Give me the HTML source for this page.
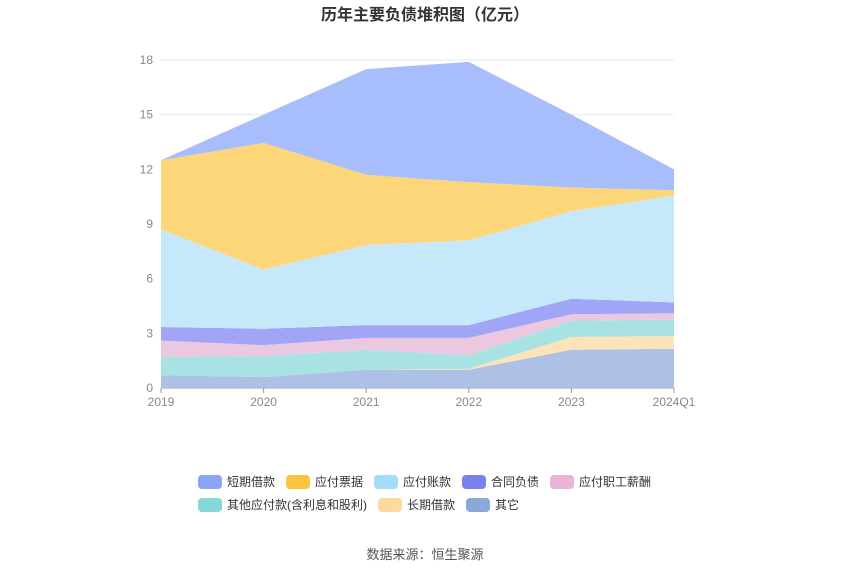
<!DOCTYPE html>
<html><head><meta charset="utf-8"><style>
body{margin:0;background:#fff;font-family:"Liberation Sans","Noto Sans CJK SC",sans-serif}
svg text{font-family:"Liberation Sans","Noto Sans CJK SC",sans-serif}
</style></head><body>
<svg id="c" width="850" height="575">
<text x="425" y="20" text-anchor="middle" font-size="16" font-weight="bold" fill="#333">历年主要负债堆积图（亿元）</text>
<g id="grid"></g><g id="areas"></g><g id="axes"></g><g id="legend"></g>
<text x="425" y="559" text-anchor="middle" font-size="13" fill="#555">数据来源：恒生聚源</text>
</svg>
<script>
const categories=["2019","2020","2021","2022","2023","2024Q1"];
const seriesNames=["其它","长期借款","其他应付款(含利息和股利)","应付职工薪酬","合同负债","应付账款","应付票据","短期借款"];
const s_other=[0.7,0.6,1.0,1.0,2.1,2.15];
const s_longLoan=[0,0,0,0.05,0.7,0.7];
const s_otherPay=[1.0,1.15,1.1,0.75,0.9,0.9];
const s_salary=[0.9,0.6,0.65,0.95,0.35,0.35];
const s_contract=[0.75,0.9,0.7,0.7,0.85,0.6];
const s_accounts=[5.35,3.25,4.4,4.65,4.8,5.85];
const s_notes=[3.8,6.95,3.85,3.2,1.3,0.3];
const s_shortLoan=[0,1.55,5.8,6.6,4.0,1.15];
const yTicks=[0,3,6,9,12,15,18];
const series=[s_other,s_longLoan,s_otherPay,s_salary,s_contract,s_accounts,s_notes,s_shortLoan];
const fills=["#adc1e6","#fde3b8","#a9e2e2","#ecc8e0","#a0a5f5","#c5e9fb","#fdd67a","#a8bdfc"];
const legendColors=["#8aa9da","#fdd9a0","#84d8d8","#e8b4d8","#7b7ff0","#a3ddf9","#fcc342","#8aa4f8"];
const NS="http://www.w3.org/2000/svg";
const x0=161,x1=674,yB=388,yT=60;
const xs=i=>x0+(x1-x0)*i/(categories.length-1);
const ys=v=>yB-(yB-yT)*v/18;
function mk(t,a,p){const e=document.createElementNS(NS,t);for(const k in a)e.setAttribute(k,a[k]);p.appendChild(e);return e;}
const grid=document.getElementById('grid'),axes=document.getElementById('axes'),areas=document.getElementById('areas'),leg=document.getElementById('legend');
yTicks.forEach(v=>{
 const l=mk('line',{x1:x0,x2:x1,y1:ys(v),y2:ys(v),stroke:v===0?'#999':'#e6e9f0'},grid);
 
 
 const t=mk('text',{x:x0-8,y:ys(v)+4,'text-anchor':'end','font-size':12,fill:'#888'},axes);t.textContent=v;
 
 
});
categories.forEach((c,i)=>{
 const t=mk('text',{x:xs(i),y:406,'text-anchor':'middle','font-size':12,fill:'#888'},axes);t.textContent=c;
 
 
 mk('line',{x1:xs(i),x2:xs(i),y1:yB,y2:yB+5,stroke:'#999'},axes);
});
let base=categories.map(()=>0);
series.forEach((s,k)=>{
 const top=base.map((b,i)=>b+s[i]);
 let d='M'+top.map((v,i)=>xs(i)+','+ys(v)).join('L');
 for(let i=categories.length-1;i>=0;i--)d+='L'+xs(i)+','+ys(base[i]);
 const p=mk('path',{d:d+'Z',fill:fills[k]},areas);
 
 
 base=top;
});
const legItems=[[7,198,482],[6,286,482],[5,374,482],[4,462,482],[3,550,482],[2,198,505],[1,378,505],[0,466,505]];
legItems.forEach(([k,x,y])=>{
 const g=mk('g',{},leg);
 
 
 mk('rect',{x:x,y:y-7,width:24,height:14,rx:4,fill:legendColors[k]},g);
 const t=mk('text',{x:x+29,y:y+4,'font-size':12,fill:'#333'},g);t.textContent=seriesNames[k];
});
</script>
</body></html>
